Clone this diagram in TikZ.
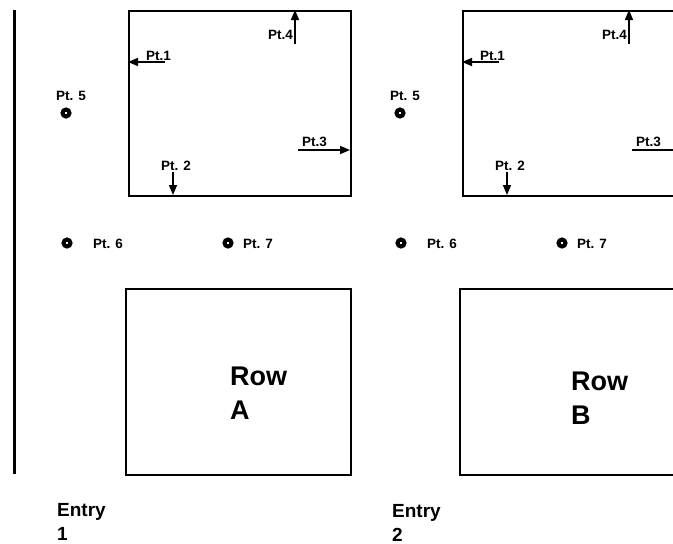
\documentclass[tikz,border=0pt]{standalone}
\usepackage{fontspec}
\setmainfont{Liberation Sans}
\usetikzlibrary{arrows.meta}

\tikzset{
  box/.style={draw, line width=2.2pt, rectangle, inner sep=0pt, anchor=north west},
  ptarrow/.style={line width=1.6pt, -{Triangle[length=10pt,width=8pt]}},
  ptlabel/.style={font=\bfseries\fontsize{13.5}{15}\selectfont, inner sep=0pt},
  ring/.style={circle, draw, line width=4pt, minimum size=7pt, inner sep=0pt},
  rowlabel/.style={font=\bfseries\fontsize{27}{34}\selectfont, align=left, inner sep=0pt, anchor=north west},
  entrylabel/.style={font=\bfseries\fontsize{19}{24}\selectfont, align=left, inner sep=0pt, anchor=north west},
}

\begin{document}
\begin{tikzpicture}[x=1pt, y=-1pt]
  \useasboundingbox (0,0) rectangle (673,544);

  % left rule
  \draw[line width=3pt] (14,10) coordinate (ruleTop) -- (14,474) coordinate (ruleBot);

  \foreach \p/\s/\rx/\ry/\ex/\ey/\rt/\et in {
      A/0/230/367/57/503/{Row\\A}/{Entry\\1},
      B/334/237/372/58/504/{Row\\B}/{Entry\\2}} {
    \begin{scope}[xshift=\s pt]
      % upper box with its measuring points
      \node[box, minimum width=222pt, minimum height=185pt] (top\p) at (128,10) {};
      \coordinate (p1s\p) at (165,62);   \coordinate (p1e\p) at (128,62);
      \coordinate (p2s\p) at (173,172);  \coordinate (p2e\p) at (173,195);
      \coordinate (p3s\p) at (298,150);  \coordinate (p3e\p) at (350,150);
      \coordinate (p4s\p) at (295,44);   \coordinate (p4e\p) at (295,10);
      \draw[ptarrow] (p1s\p) -- (p1e\p);
      \draw[ptarrow] (p2s\p) -- (p2e\p);
      \draw[ptarrow] (p3s\p) -- (p3e\p);
      \draw[ptarrow] (p4s\p) -- (p4e\p);
      \node[ptlabel, anchor=base west] (l1\p) at (146,60) {Pt.1};
      \node[ptlabel, anchor=base]      (l2\p) at (176,170) {Pt. 2};
      \node[ptlabel, anchor=base west] (l3\p) at (302,146) {Pt.3};
      \node[ptlabel, anchor=base east] (l4\p) at (293,39) {Pt.4};

      % survey points outside the boxes
      \node[ring] (d5\p) at (66,113) {};
      \node[ptlabel, anchor=base] (l5\p) at (71,100) {Pt. 5};
      \node[ring] (d6\p) at (67,243) {};
      \node[ptlabel, anchor=base west] (l6\p) at (93,248) {Pt. 6};
      \node[ring] (d7\p) at (228,243) {};
      \node[ptlabel, anchor=base west] (l7\p) at (243,248) {Pt. 7};

      % lower box
      \node[box, minimum width=225pt, minimum height=186pt] (bot\p) at (125,288) {};
      \node[rowlabel] (row\p) at (\rx,\ry) {\rt};

      % entry label
      \node[entrylabel] (entry\p) at (\ex,\ey) {\et};
    \end{scope}
  }
\end{tikzpicture}
\end{document}
